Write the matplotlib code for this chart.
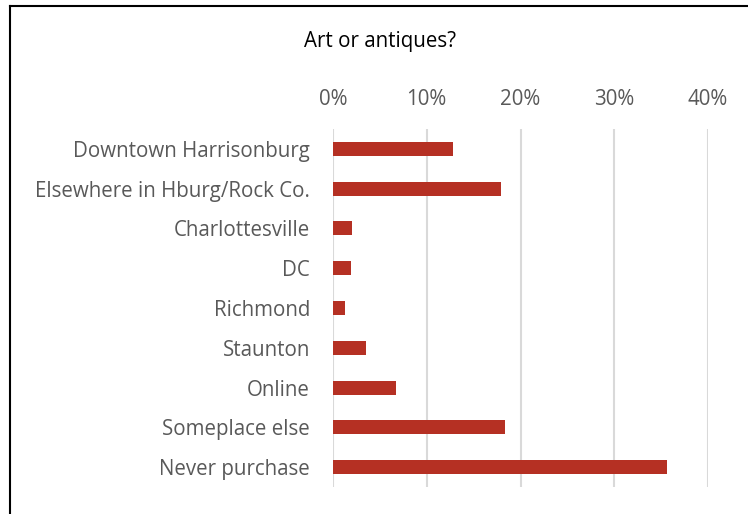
import matplotlib.pyplot as plt
from matplotlib.lines import Line2D
from matplotlib.ticker import PercentFormatter

# Where people buy art or antiques (share of respondents)
lieux = ['Downtown Harrisonburg', 'Elsewhere in Hburg/Rock Co.', 'Charlottesville',
         'DC', 'Richmond', 'Staunton', 'Online', 'Someplace else', 'Never purchase']
parts = [0.128, 0.179, 0.020, 0.019, 0.013, 0.035, 0.067, 0.183, 0.356]
graduations = [0, 0.1, 0.2, 0.3, 0.4]

plt.rcParams['font.family'] = ['Open Sans', 'DejaVu Sans']

fig = plt.figure(figsize=(7.48, 5.14), dpi=100)
ax = fig.add_axes([333 / 748, 1 - 487 / 514, 375 / 748, 358 / 514])

y = range(len(lieux))
ax.barh(y, parts, height=0.35, color='#b53023', zorder=3)

ax.set_ylim(len(lieux) - 0.5, -0.5)
ax.set_xlim(0, 0.4)
ax.set_yticks(list(y))
ax.set_yticklabels(lieux, fontsize=14.8, color='#595959')
ax.set_xticks(graduations)
ax.xaxis.set_major_formatter(PercentFormatter(1.0, decimals=0))
ax.xaxis.tick_top()
ax.tick_params(axis='x', labelsize=14.8, colors='#595959', length=0, pad=13.5)
ax.tick_params(axis='y', length=0, pad=16.5)
ax.grid(axis='x', color='#d9d9d9', linewidth=1.5, zorder=0)
for s in ax.spines.values():
    s.set_visible(False)

fig.text(380 / 748, 1 - 42 / 514, 'Art or antiques?', ha='center', va='center',
         fontsize=14.8, color='black')

# cadre noir en haut et a gauche
fig.add_artist(Line2D([9.5 / 748, 9.5 / 748], [0, 1 - 6 / 514], color='black',
                      linewidth=1.5, transform=fig.transFigure))
fig.add_artist(Line2D([9.5 / 748, 1], [1 - 6 / 514, 1 - 6 / 514], color='black',
                      linewidth=1.5, transform=fig.transFigure))

plt.savefig('out.png', dpi=100)
plt.close()
